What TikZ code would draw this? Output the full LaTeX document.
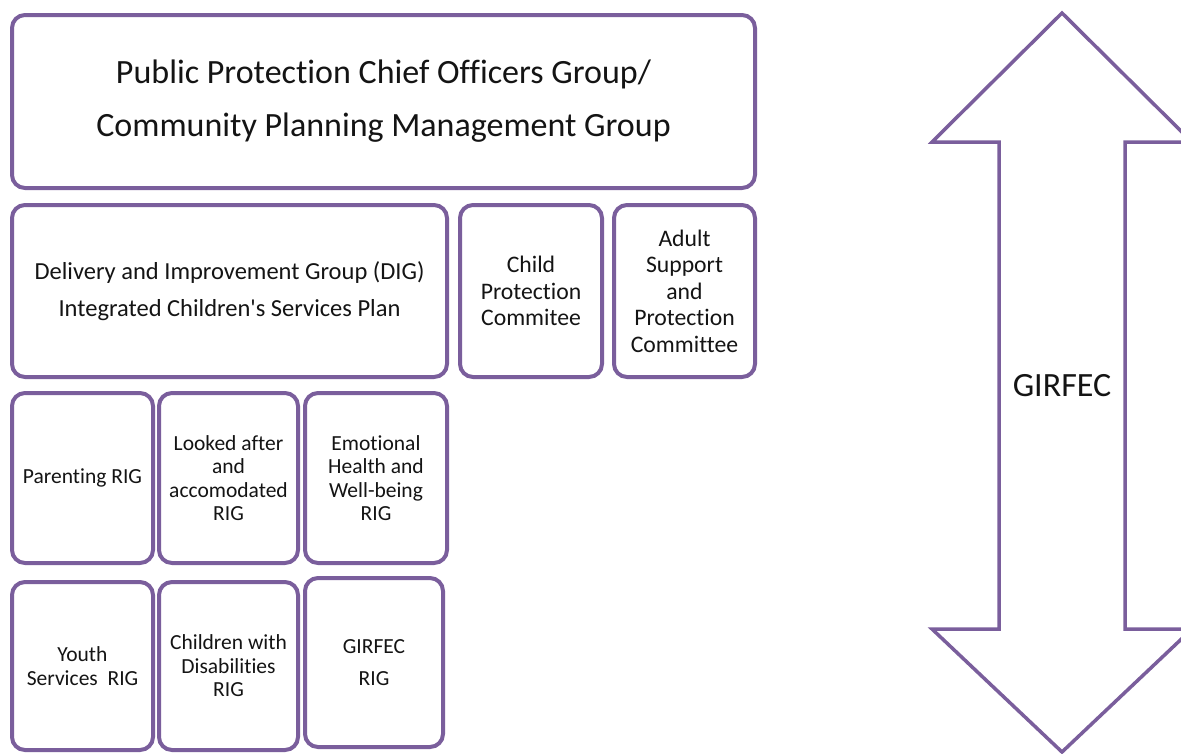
\documentclass[tikz,border=0pt]{standalone}
\usepackage{fontspec}
\setmainfont{Carlito}[Ligatures={TeXOff,NoCommon}]
\definecolor{boxpurple}{RGB}{122,94,156}
\definecolor{txt}{RGB}{20,20,20}
\begin{document}
\begin{tikzpicture}[x=1pt,y=-1pt,
  box/.style={draw=boxpurple, line width=4pt, rounded corners=13pt, fill=white,
    text=txt, align=center, inner sep=0pt},
  bigtext/.style={font=\fontsize{34}{53}\selectfont},
  midtext/.style={font=\fontsize{24.5}{37}\selectfont},
  comtext/.style={font=\fontsize{23.7}{26.5}\selectfont},
  rigtext/.style={font=\fontsize{21.5}{23.5}\selectfont}]
\useasboundingbox (0,0) rectangle (1181,753);
\fill[white] (0,0) rectangle (1181,753);

% top box
\node[box, bigtext, minimum width=743pt, minimum height=173pt] (ppcog) at (383.5,101.5)
  {Public Protection Chief Officers Group/\\Community Planning Management Group};

% second row
\node[box, midtext, minimum width=435pt, minimum height=172pt] (dig) at (229.5,291)
  {Delivery and Improvement Group (DIG)\\Integrated Children's Services Plan};
\node[box, comtext, minimum width=142pt, minimum height=172pt] (cpc) at (531,291)
  {Child\\Protection\\Commitee};
\node[box, comtext, minimum width=141pt, minimum height=172pt] (aspc) at (684.5,291)
  {Adult\\Support\\and\\Protection\\Committee};

% third row
\node[box, rigtext, minimum width=141pt, minimum height=170pt] (par) at (82.5,478)
  {Parenting RIG};
\node[box, rigtext, minimum width=139pt, minimum height=170pt] (lac) at (228.5,478)
  {Looked after\\and\\accomodated\\RIG};
\node[box, rigtext, minimum width=142pt, minimum height=170pt] (ehw) at (376,478)
  {Emotional\\Health and\\Well-being\\RIG};

% fourth row
\node[box, rigtext, minimum width=141pt, minimum height=168pt] (ys) at (82.5,666)
  {Youth\\Services\ \ RIG};
\node[box, rigtext, minimum width=139pt, minimum height=168pt] (cwd) at (228.5,666)
  {Children with\\Disabilities\\RIG};
\node[box, font=\fontsize{21.5}{32}\selectfont, minimum width=138pt, minimum height=169pt] (grig) at (374,662.5)
  {GIRFEC\\RIG};

% double-headed block arrow
\draw[draw=boxpurple, line width=3.5pt, fill=white, line join=miter]
  (1062,13) -- (1192,142) -- (1125,142) -- (1125,629) -- (1192,629)
  -- (1062,752) -- (932,629) -- (999,629) -- (999,142) -- (932,142) -- cycle;
\node[text=txt, font=\fontsize{34}{40}\selectfont, inner sep=0pt] (girfec) at (1062,386) {GIRFEC};
\end{tikzpicture}
\end{document}
